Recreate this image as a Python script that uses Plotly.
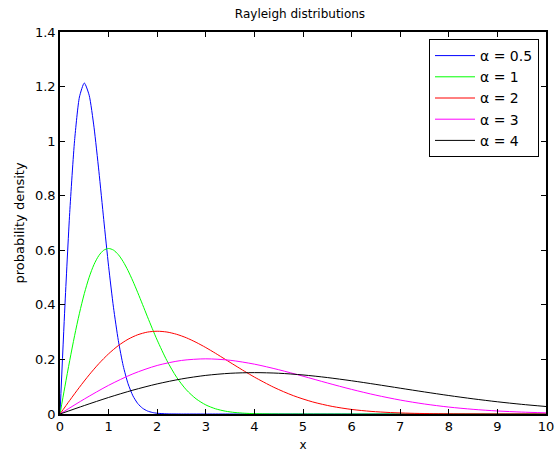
import plotly.graph_objects as go

# alpha = 0.5
x_a05 = [0, 0.1, 0.2, 0.3, 0.4, 0.5, 0.6, 0.7, 0.8, 0.9, 1.0, 1.1, 1.2, 1.3, 1.4, 1.5,
         1.6, 1.7, 1.8, 1.9, 2.0, 2.2, 2.5, 3, 4, 5, 6, 7, 8, 9, 10]
y_a05 = [0, 0.3921, 0.7385, 1.0024, 1.1618, 1.2131, 1.1683, 1.0509, 0.8897, 0.7125, 0.5413,
         0.3912, 0.2695, 0.1770, 0.1111, 0.0667, 0.0382, 0.0210, 0.0110, 0.0056, 0.0027,
         0.0006, 0.0000, 0, 0, 0, 0, 0, 0, 0, 0]

# alpha = 1
x_a1 = [0, 0.1, 0.2, 0.3, 0.4, 0.5, 0.6, 0.7, 0.8, 0.9, 1.0, 1.1, 1.2, 1.3, 1.4, 1.5, 1.6,
        1.7, 1.8, 1.9, 2.0, 2.2, 2.4, 2.6, 2.8, 3.0, 3.2, 3.4, 3.6, 3.8, 4.0, 4.5, 5, 6, 7, 8, 9, 10]
y_a1 = [0, 0.0995, 0.1960, 0.2868, 0.3692, 0.4412, 0.5012, 0.5479, 0.5809, 0.6003, 0.6065,
        0.6007, 0.5841, 0.5585, 0.5254, 0.4870, 0.4448, 0.4007, 0.3562, 0.3126, 0.2707,
        0.1956, 0.1347, 0.0885, 0.0556, 0.0333, 0.0191, 0.0105, 0.0055, 0.0028, 0.0013,
        0.0002, 0.0000, 0, 0, 0, 0, 0]

# alpha = 2
x_a2 = [0, 0.2, 0.4, 0.6, 0.8, 1.0, 1.2, 1.4, 1.6, 1.8, 2.0, 2.2, 2.4, 2.6, 2.8, 3.0, 3.2,
        3.4, 3.6, 3.8, 4.0, 4.4, 4.8, 5.2, 5.6, 6.0, 6.4, 6.8, 7.2, 7.6, 8.0, 9.0, 10]
y_a2 = [0, 0.0498, 0.0980, 0.1434, 0.1846, 0.2206, 0.2506, 0.2739, 0.2904, 0.3002, 0.3033,
        0.3004, 0.2921, 0.2793, 0.2627, 0.2435, 0.2224, 0.2003, 0.1781, 0.1563, 0.1353,
        0.0978, 0.0673, 0.0442, 0.0278, 0.0167, 0.0096, 0.0053, 0.0028, 0.0014, 0.0007,
        0.0001, 0.0000]

# alpha = 3
x_a3 = [0, 0.5, 1.0, 1.5, 2.0, 2.5, 3.0, 3.5, 4.0, 4.5, 5.0, 5.5, 6.0, 6.5, 7.0, 7.5, 8.0,
        8.5, 9.0, 9.5, 10]
y_a3 = [0, 0.0548, 0.1051, 0.1471, 0.1779, 0.1963, 0.2022, 0.1969, 0.1827, 0.1623, 0.1386,
        0.1138, 0.0902, 0.0691, 0.0511, 0.0366, 0.0254, 0.0171, 0.0111, 0.0070, 0.0043]

# alpha = 4
x_a4 = [0, 0.5, 1.0, 1.5, 2.0, 2.5, 3.0, 3.5, 4.0, 4.5, 5.0, 5.5, 6.0, 6.5, 7.0, 7.5, 8.0,
        8.5, 9.0, 9.5, 10]
y_a4 = [0, 0.0310, 0.0606, 0.0874, 0.1103, 0.1285, 0.1415, 0.1492, 0.1516, 0.1494, 0.1431,
        0.1336, 0.1218, 0.1085, 0.0946, 0.0808, 0.0677, 0.0556, 0.0448, 0.0354, 0.0275]

series = [
    ("α = 0.5", x_a05, y_a05, "#0000ff", 0.6),
    ("α = 1", x_a1, y_a1, "#00ff00", 0.8),
    ("α = 2", x_a2, y_a2, "#ff0000", 0.8),
    ("α = 3", x_a3, y_a3, "#ff00ff", 0.8),
    ("α = 4", x_a4, y_a4, "#000000", 0.8),
]

fig = go.Figure()
for name, xs, ys, col, sm in series:
    fig.add_trace(go.Scatter(x=xs, y=ys, mode="lines", name=name,
                             line=dict(color=col, width=1, shape="spline", smoothing=sm)))

font_family = "DejaVu Sans, Verdana, sans-serif"
axis_common = dict(showgrid=False, zeroline=False, showline=True, linecolor="black",
                   linewidth=1.5, mirror="ticks", ticks="inside", ticklen=5,
                   tickcolor="black", tickwidth=1, automargin=False,
                   tickfont=dict(family=font_family, size=13, color="black"))

fig.update_layout(
    width=558, height=452,
    margin=dict(l=60, r=12, t=32, b=38),
    paper_bgcolor="white", plot_bgcolor="white",
    title=dict(text="Rayleigh distributions", x=300 / 558, xanchor="center",
               y=1 - 14 / 452, yanchor="middle",
               font=dict(family=font_family, size=12, color="black")),
    xaxis=dict(range=[0, 10], dtick=1, tick0=0,
               title=dict(text="x", standoff=8, font=dict(family=font_family, size=12, color="black")),
               **axis_common),
    yaxis=dict(range=[0, 1.4], dtick=0.2, tick0=0,
               title=dict(text="probability density", standoff=7,
                          font=dict(family=font_family, size=13, color="black")),
               **axis_common),
    legend=dict(x=(539 - 60) / 486, xanchor="right", y=(414 - 39) / 382, yanchor="top",
                bordercolor="black", borderwidth=1, bgcolor="white",
                font=dict(family=font_family, size=14, color="black"),
                tracegroupgap=0, itemwidth=40),
    showlegend=True,
)

fig.write_html("out.html", config={"displayModeBar": False},
               post_script="document.body.style.margin='0';document.body.style.overflow='hidden';")
